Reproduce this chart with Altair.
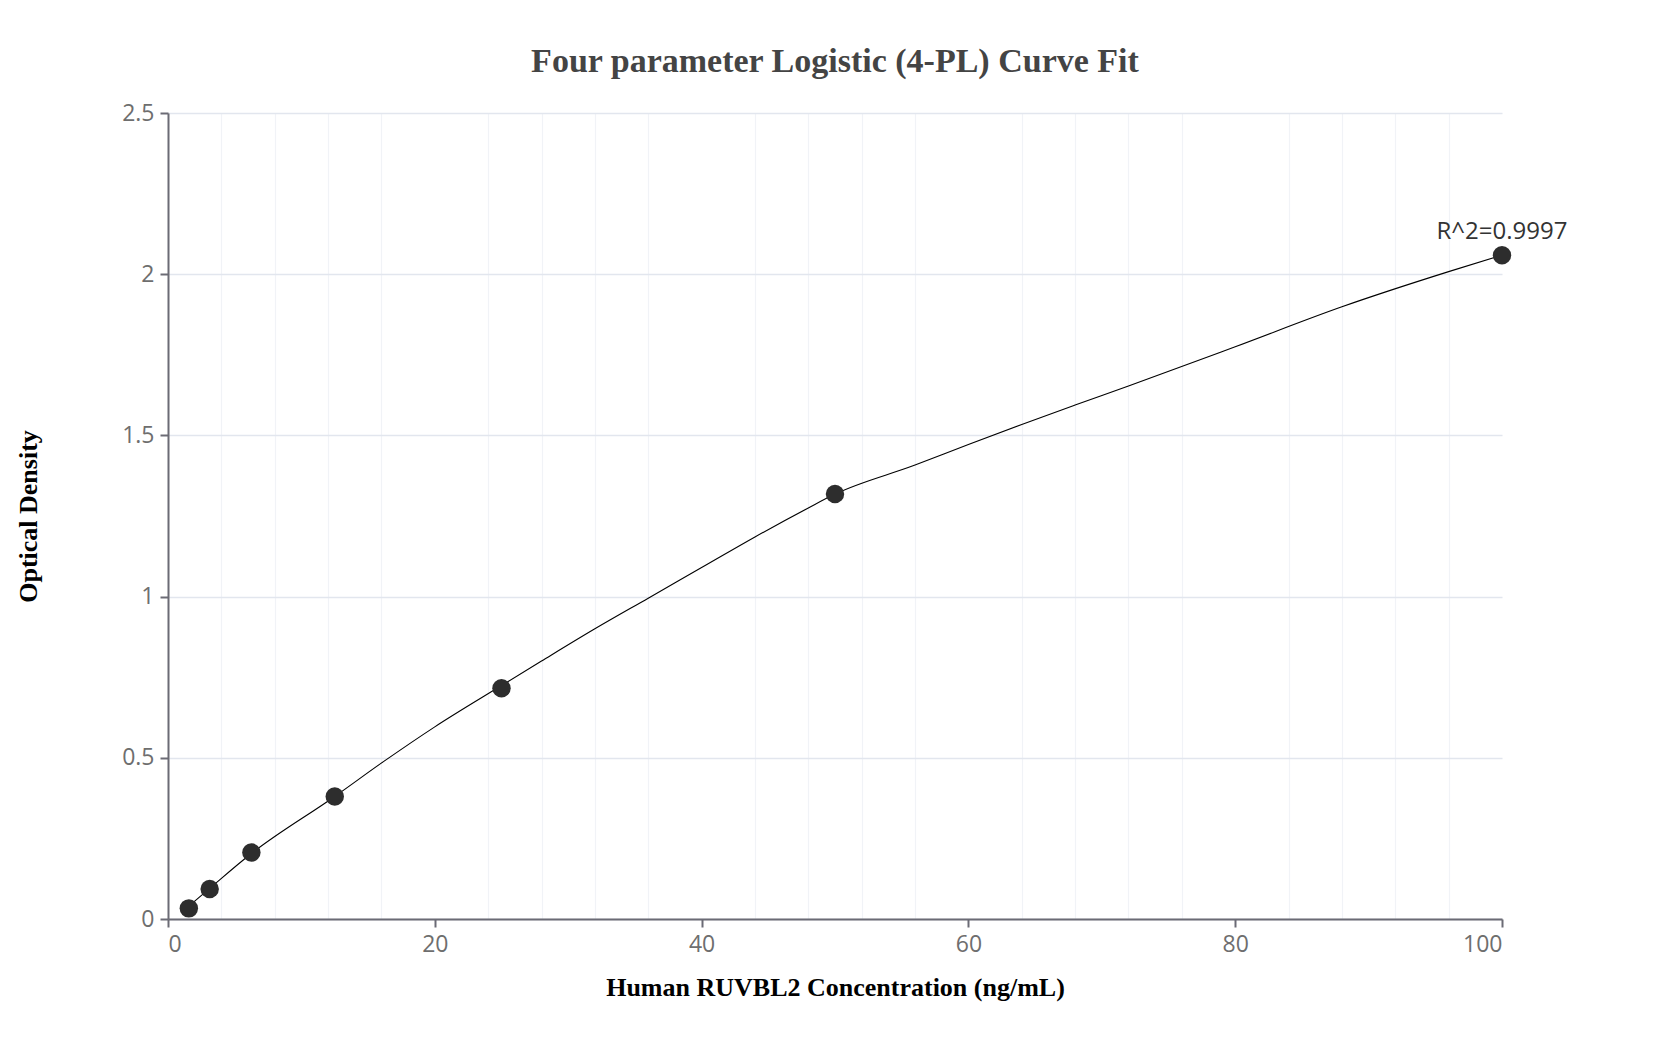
import pandas as pd
import altair as alt

# measured standards
conc = [1.5625, 3.125, 6.25, 12.5, 25, 50, 100]
od = [0.033, 0.093, 0.206, 0.380, 0.716, 1.318, 2.059]

# fitted curve
curve_x = [1.5625, 3.125, 6.25, 12.5, 16.15, 20, 25, 28, 32, 36, 40,
           44, 48, 50, 56, 60, 64, 68, 72, 80, 88, 96, 100]
curve_y = [0.040, 0.095, 0.203, 0.380, 0.488, 0.596, 0.724, 0.800,
           0.900, 0.995, 1.090, 1.185, 1.275, 1.318, 1.408, 1.472, 1.534,
           1.594, 1.653, 1.775, 1.899, 2.008, 2.059]

x_major = [0, 20, 40, 60, 80, 100]
x_minor = [v for v in range(4, 100, 4) if v % 20 != 0]
y_major = [0, 0.5, 1, 1.5, 2, 2.5]

r2_label = ["R^2=0.9997"]

points_df = pd.DataFrame({'conc': conc, 'od': od})
curve_df = pd.DataFrame({'conc': curve_x, 'od': curve_y})
label_df = pd.DataFrame({'conc': [conc[-1]], 'od': [od[-1]], 'text': r2_label})

AXIS_GRAY = '#6b6b75'
x_scale = alt.Scale(domain=[0, 100], nice=False)
y_scale = alt.Scale(domain=[0, 2.5], nice=False)

y_enc = alt.Y('od:Q', scale=y_scale, axis=alt.Axis(
    values=y_major, format='~g', title='Optical Density', titlePadding=80))

curve = alt.Chart(curve_df).mark_line(color='black', strokeWidth=1.1, interpolate='monotone').encode(
    x=alt.X('conc:Q', scale=x_scale, axis=alt.Axis(
        values=x_minor, orient='top', labels=False, ticks=False,
        domain=False, title=None, gridColor='#f1f3f7', gridWidth=1.2)),
    y=y_enc,
)

points = alt.Chart(points_df).mark_circle(size=340, color='#2d2d2d', opacity=1).encode(
    x=alt.X('conc:Q', scale=x_scale, axis=alt.Axis(
        values=x_major, title='Human RUVBL2 Concentration (ng/mL)', titlePadding=18,
        gridColor='#dde1ea')),
    y=y_enc,
)

label = alt.Chart(label_df).mark_text(
    font='Open Sans', fontSize=24, color='#333333', align='center',
    baseline='alphabetic', dy=-16
).encode(
    x=alt.X('conc:Q', scale=x_scale, axis=None),
    y=y_enc,
    text='text:N',
)

chart = alt.layer(curve, points, label).resolve_axis(x='independent').properties(
    width=1334,
    height=806,
    padding={'left': 160, 'top': 105, 'right': 100, 'bottom': 110},
    autosize=alt.AutoSizeParams(type='none'),
    title=alt.Title(
        'Four parameter Logistic (4-PL) Curve Fit',
        font='Liberation Serif', fontSize=34, fontWeight='bold',
        color='#444444', anchor='middle', offset=23,
    ),
).configure_view(stroke=None).configure_axis(
    grid=True,
    gridColor='#e2e6ee',
    gridWidth=1.5,
    domainColor=AXIS_GRAY,
    domainWidth=2,
    tickColor=AXIS_GRAY,
    tickWidth=2,
    tickSize=8,
    labelFont='Open Sans',
    labelFontSize=23,
    labelColor='#6e6e6e',
    labelPadding=6,
    titleFont='Liberation Serif',
    titleFontSize=26,
    titleFontWeight='bold',
    titleColor='black',
)

chart.save("out.html", embed_options={"renderer": "svg", "actions": False})
